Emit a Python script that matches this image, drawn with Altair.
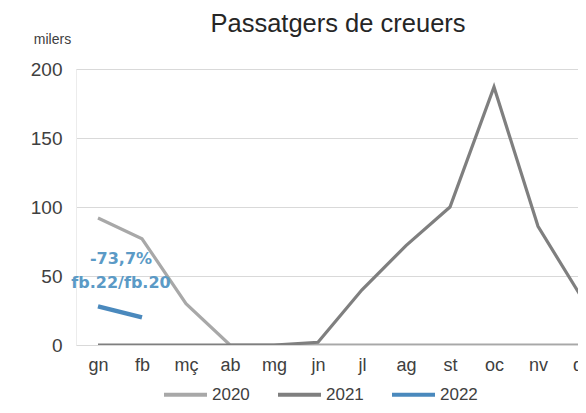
import altair as alt
import pandas as pd

months = ["gn", "fb", "mç", "ab", "mg", "jn", "jl", "ag", "st", "oc", "nv", "ds"]
v2020 = [92, 77, 30, 0, 0, 0, 0, 0, 0, 0, 0, 0]
v2021 = [0, 0, 0, 0, 0, 2, 40, 72, 100, 187, 86, 34]
v2022 = [28, 20]
years = ["2020", "2021", "2022"]
colors = ["#a8a8a8", "#7f7f7f", "#4a89bd"]
y_ticks = [0, 50, 100, 150, 200]
title_text = ["Passatgers de creuers"]

annot_text = ["-73,7%", "fb.22/fb.20"]
annot_y = [62, 45]
annot_x = ["gn", "gn"]

rows = []
for yr, vals in zip(years, [v2020, v2021, v2022]):
    for m, v in zip(months, vals):
        rows.append({"mes": m, "any": yr, "valor": v})
df = pd.DataFrame(rows)
ann = pd.DataFrame({"mes": annot_x, "valor": annot_y, "t": annot_text})

FONT = "Liberation Sans"

xenc = alt.X(
    "mes:N",
    sort=months,
    scale=alt.Scale(type="point", domain=months, padding=0.5, range=[0, 528]),
    axis=alt.Axis(title=None, labelAngle=0, ticks=False, domain=False, grid=False,
                  labelFontSize=18, labelFont=FONT, labelColor="#404040",
                  labelPadding=11, labelBaseline="top"),
)
yenc = alt.Y(
    "valor:Q",
    scale=alt.Scale(domain=[0, 200], nice=False),
    axis=alt.Axis(values=y_ticks, title="milers", titleAngle=0, titleX=-24, titleY=-30,
                  titleAlign="center", titleBaseline="middle", titleFontSize=14,
                  titleFont=FONT, titleFontWeight="normal", titleColor="#404040",
                  labelFontSize=19, labelFont=FONT, labelColor="#404040",
                  labelPadding=14, ticks=False, domain=True, domainColor="#ececec",
                  gridColor="#d9d9d9", gridWidth=1),
)
color = alt.Color(
    "any:N",
    scale=alt.Scale(domain=years, range=colors),
    legend=alt.Legend(orient="none", legendX=86, legendY=302, direction="horizontal",
                      title=None, symbolType="stroke", symbolSize=1849,
                      symbolStrokeWidth=4, labelFontSize=17, labelFont=FONT,
                      labelColor="#404040", labelOffset=3, columnPadding=20, padding=0),
)

base = alt.Chart(df)
layers = []
for yr, sw in zip(years, [3.2, 3.2, 4.5]):
    layers.append(
        base.transform_filter(alt.datum.any == yr)
        .mark_line(strokeWidth=sw, clip=True)
        .encode(x=xenc, y=yenc, color=color)
    )

texts = alt.Chart(ann).mark_text(
    font="DejaVu Sans", fontWeight="bold", fontSize=16, color="#5b9ac6",
    dx=23, baseline="middle", align="center"
).encode(x=alt.X("mes:N", sort=months), y=alt.Y("valor:Q"), text="t:N")

title = alt.Chart(pd.DataFrame({"t": title_text})).mark_text(
    font=FONT, fontSize=25.5, color="#262626", align="center", baseline="alphabetic"
).encode(x=alt.value(262), y=alt.value(-37), text="t:N")

chart = alt.layer(*layers, texts, title).properties(
    width=502,
    height=276,
    padding={"left": 68, "top": 61, "right": 0, "bottom": 60},
    autosize=alt.AutoSizeParams(type="none"),
).configure_view(stroke=None).configure(background="white")

chart.save("out.html", embed_options={"renderer": "svg", "actions": False})
